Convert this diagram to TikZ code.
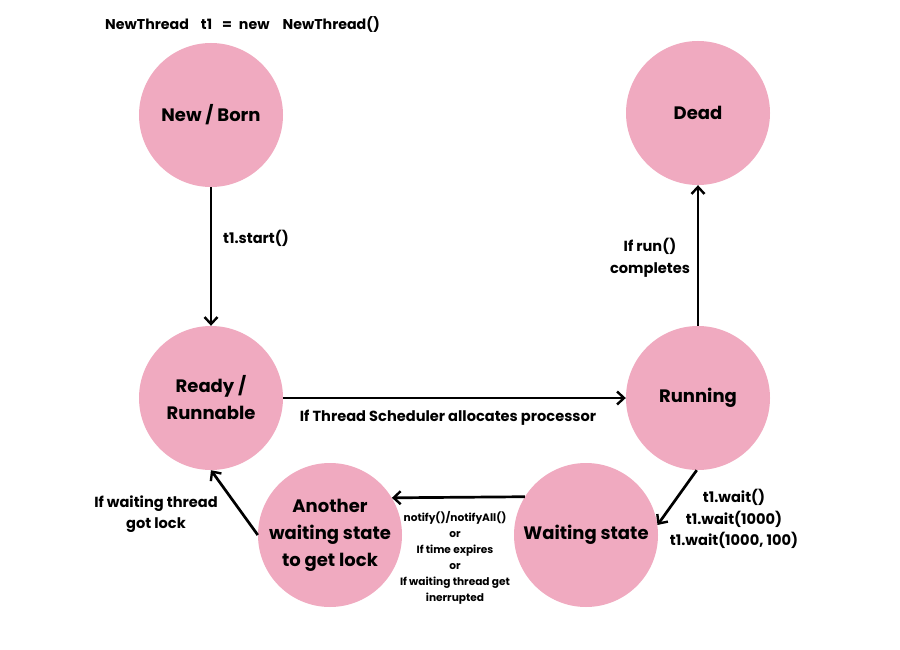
\documentclass[tikz,border=0pt]{standalone}
\usepackage{fontspec}
\setmainfont{Poppins}
\usetikzlibrary{arrows.meta}
\definecolor{pinkfill}{RGB}{240,170,192}
\tikzset{
  state/.style={circle, fill=pinkfill, minimum size=144pt, inner sep=0pt, align=center, font=\fontsize{18}{27}\selectfont\bfseries},
  conn/.style={line width=2.7pt, -{Straight Barb[length=7pt,width=13pt,line width=2.4pt]}},
  lbl/.style={align=center, font=\fontsize{14.6}{21.5}\selectfont\bfseries},
  small/.style={align=center, font=\fontsize{10.6}{16}\selectfont\bfseries}
}
\begin{document}
\begin{tikzpicture}[x=1pt,y=-1pt]
\useasboundingbox[fill=white] (0,0) rectangle (900,650);
\node[lbl, anchor=west, inner sep=0pt, font=\fontsize{14.2}{20}\selectfont\bfseries] (decl) at (105,25) {NewThread\hspace{12pt}t1\hspace{10pt}=\hspace{7pt}new\hspace{13pt}NewThread()};
\node[state] (new) at (211,115) {New / Born};
\node[state] (dead) at (698,113) {Dead};
\node[state] (ready) at (211,398) {Ready /\\Runnable};
\node[state] (run) at (698,398) {Running};
\node[state] (wait) at (586,535) {Waiting state};
\node[state] (other) at (330,535) {Another\\waiting state\\to get lock};

\draw[conn] (new) -- (ready);
\draw[conn] (ready) -- (run);
\draw[conn] (run) -- (dead);
\draw[conn] (run.-91) -- (wait.8);
\draw[conn] (wait.148) -- (other.31);
\draw[conn] (other.180) -- (ready.-90);

\node[lbl, anchor=west, inner sep=0pt] (l1) at (223,238) {t1.start()};
\node[lbl] (l2) at (448,418) {If Thread Scheduler allocates processor};
\node[lbl] (l3) at (650,258) {If run()\\completes};
\node[lbl] (l4) at (734,519) {t1.wait()\\t1.wait(1000)\\t1.wait(1000, 100)};
\node[small] (l5) at (455,558) {notify()/notifyAll()\\or\\If time expires\\or\\If waiting thread get\\inerrupted};
\node[lbl] (l6) at (156,514) {If waiting thread\\got lock};
\end{tikzpicture}
\end{document}
